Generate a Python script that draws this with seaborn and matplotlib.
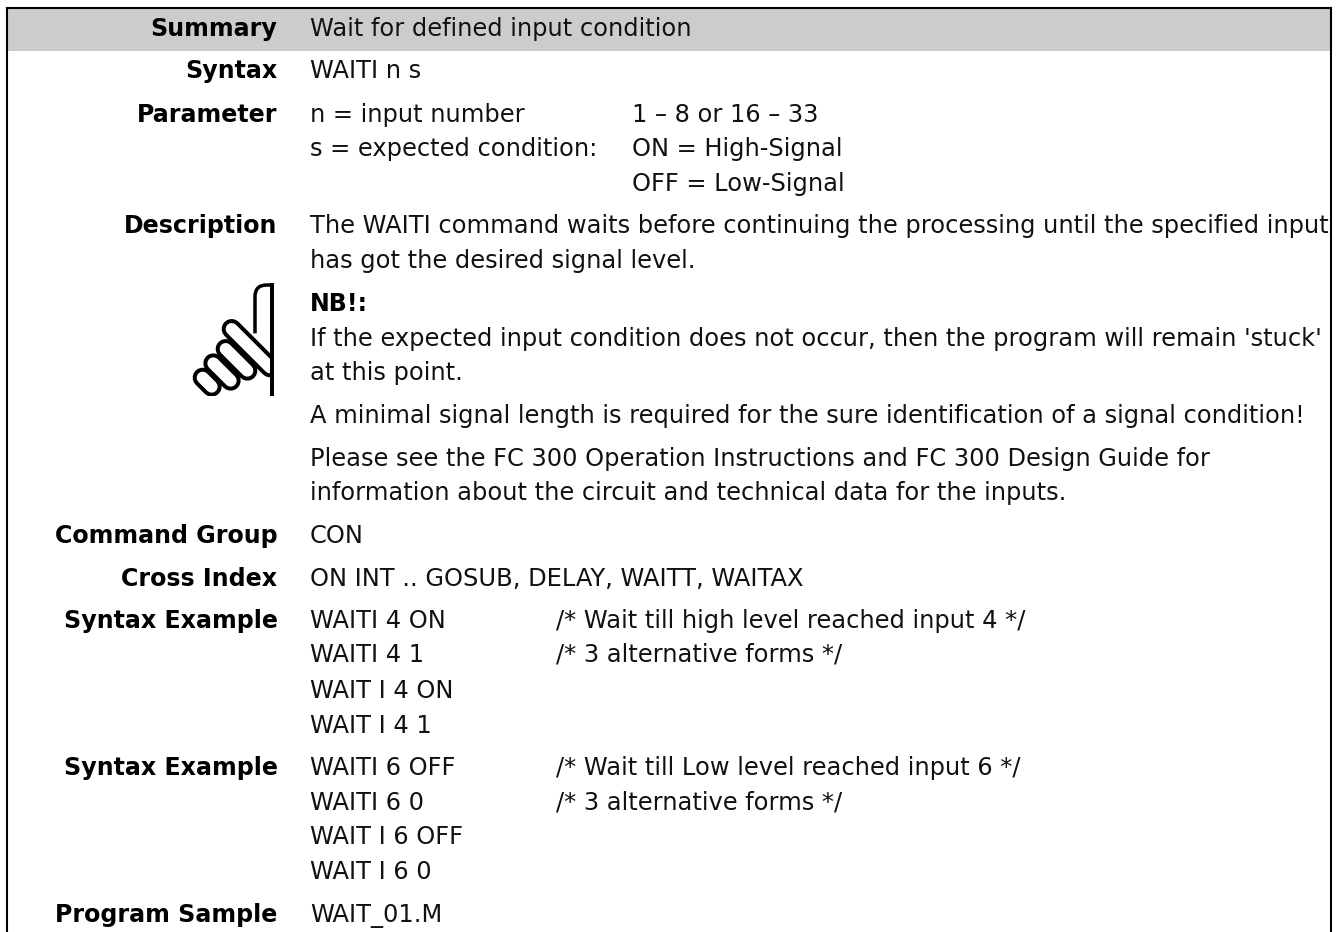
import matplotlib
matplotlib.use("Agg")
import matplotlib.pyplot as plt
import seaborn as sns
from matplotlib.patches import Rectangle
from matplotlib.path import Path
from matplotlib.patches import PathPatch

sns.set_theme(style="white")
plt.rcParams['font.family'] = ['DejaVu Sans']

# (text, baseline y in page pixels)
labels = [("Summary", 36), ("Syntax", 78), ("Parameter", 122), ("Description", 233),
          ("Command Group", 543), ("Cross Index", 586), ("Syntax Example", 628),
          ("Syntax Example", 775), ("Program Sample", 922)]

col1 = [("Wait for defined input condition", 36), ("WAITI n s", 78),
        ("n = input number", 122), ("s = expected condition:", 156),
        ("The WAITI command waits before continuing the processing until the specified input", 233),
        ("has got the desired signal level.", 268),
        ("If the expected input condition does not occur, then the program will remain 'stuck'", 346),
        ("at this point.", 380),
        ("A minimal signal length is required for the sure identification of a signal condition!", 423),
        ("Please see the FC 300 Operation Instructions and FC 300 Design Guide for", 466),
        ("information about the circuit and technical data for the inputs.", 500),
        ("CON", 543), ("ON INT .. GOSUB, DELAY, WAITT, WAITAX", 586),
        ("WAITI 4 ON", 628), ("WAITI 4 1", 662), ("WAIT I 4 ON", 698), ("WAIT I 4 1", 733),
        ("WAITI 6 OFF", 775), ("WAITI 6 0", 810), ("WAIT I 6 OFF", 844), ("WAIT I 6 0", 879),
        ("WAIT_01.M", 922)]

col2 = [("1 – 8 or 16 – 33", 122), ("ON = High-Signal", 156), ("OFF = Low-Signal", 191)]

comments = [("/* Wait till high level reached input 4 */", 628), ("/* 3 alternative forms */", 662),
            ("/* Wait till Low level reached input 6 */", 775), ("/* 3 alternative forms */", 810)]

note_head = ("NB!:", 311)

FS = 17.4
FS_BOLD = 17.15
fig = plt.figure(figsize=(13.44, 9.32), dpi=100, facecolor="white")
ax = fig.add_axes([0, 0, 1, 1])
ax.set_xlim(0, 1344)
ax.set_ylim(932, 0)
ax.axis("off")

ax.add_patch(Rectangle((7, 8), 1324, 43, fc="#cccccc", ec="none"))
ax.plot([7, 7], [932, 8], color="black", lw=1.5, solid_capstyle="projecting")
ax.plot([7, 1331], [8, 8], color="black", lw=1.5, solid_capstyle="projecting")
ax.plot([1331, 1331], [8, 932], color="black", lw=1.5, solid_capstyle="projecting")

ink = "#111111"
for t, y in labels:
    ax.text(277.5, y, t, ha="right", va="baseline", fontsize=FS_BOLD, fontweight="bold", color="black")
for t, y in col1:
    ax.text(310, y, t, ha="left", va="baseline", fontsize=FS, color=ink)
for t, y in col2:
    ax.text(632, y, t, ha="left", va="baseline", fontsize=FS, color=ink)
for t, y in comments:
    ax.text(556, y, t, ha="left", va="baseline", fontsize=FS, color=ink)
ax.text(310, note_head[1], note_head[0], ha="left", va="baseline", fontsize=FS_BOLD, fontweight="bold", color="black")


def zx(v):
    return 60 + v / 3


def zy(v):
    return 200 + v / 3


PX = 0.72
OUTER = 20
INNER = 12
fingers = [((428, 533), (455, 560)),
           ((460, 490), (512, 542)),
           ((497, 447), (562, 512)),
           ((515, 387), (630, 502))]
for a, b in fingers:
    xs = [zx(a[0]), zx(b[0])]
    ys = [zy(a[1]), zy(b[1])]
    ax.plot(xs, ys, color="black", lw=OUTER * PX, solid_capstyle="round", zorder=3)
    ax.plot(xs, ys, color="white", lw=INNER * PX, solid_capstyle="round", zorder=3)

# the part of the glyph cut away right of the palm line and below it
ax.add_patch(Rectangle((272, 283), 14, 118, fc="white", ec="none", zorder=4))
ax.add_patch(Rectangle((185, 396), 100, 10, fc="white", ec="none", zorder=4))
verts = [(zx(585), zy(400)), (zx(585), zy(290)), (zx(585), zy(255)), (zx(620), zy(255)), (272, zy(255))]
codes = [Path.MOVETO, Path.LINETO, Path.CURVE3, Path.CURVE3, Path.LINETO]
ax.add_patch(PathPatch(Path(verts, codes), fc="none", ec="black", lw=3.5 * PX, zorder=5))
ax.plot([272, 272], [283, 396], color="black", lw=4 * PX, solid_capstyle="butt", zorder=5)

fig.savefig("out.png", dpi=100)
